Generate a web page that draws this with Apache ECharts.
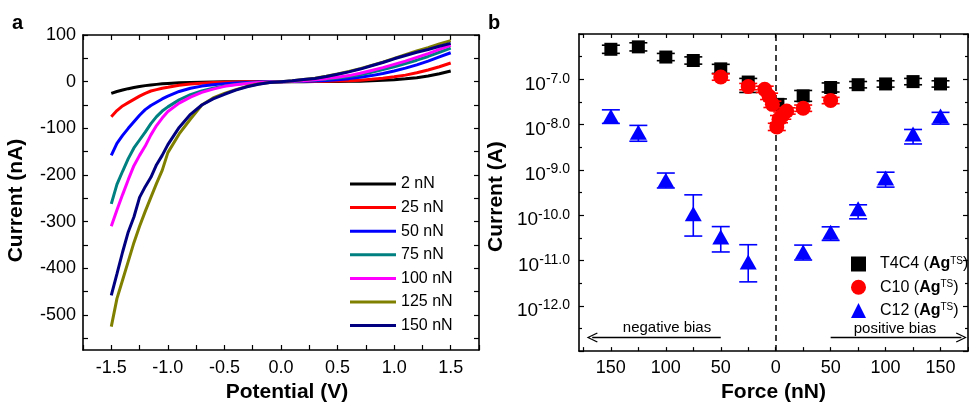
<!DOCTYPE html>
<html>
<head>
<meta charset="utf-8">
<script src="https://cdn.jsdelivr.net/npm/echarts@6/dist/echarts.min.js"></script>
<style>html,body{margin:0;padding:0;background:#fff}#c{width:969px;height:408px}</style>
</head>
<body>
<div id="c"></div>
<script>
// ---------- Panel a: I-V curves ----------
const voltage = [-1.5,-1.45,-1.4,-1.35,-1.3,-1.25,-1.2,-1.15,-1.1,-1.05,-1.0,-0.9,-0.8,-0.7,-0.6,-0.5,-0.4,-0.3,-0.2,-0.1,0,0.1,0.2,0.3,0.4,0.5,0.6,0.7,0.8,0.9,1.0,1.1,1.2,1.3,1.4,1.5];
const forceLabels = ['2 nN','25 nN','50 nN','75 nN','100 nN','125 nN','150 nN'];
const i2   = [-25,-21,-18,-15,-12.5,-10.5,-8.5,-7,-5.8,-4.7,-3.8,-2.5,-1.6,-1,-0.6,-0.4,-0.2,-0.1,-0.05,0,0,0,0.05,0.1,0.2,0.4,0.7,1.1,1.8,2.8,4.2,6,8.5,12,17,23];
const i25  = [-75,-62,-52,-45,-38,-31,-25,-20,-17,-14,-12,-7.5,-5,-3.2,-2,-1.2,-0.7,-0.4,-0.2,-0.1,0,0.1,0.2,0.4,0.7,1.2,2,3.2,5,7.5,10.5,14,19,25,32,40];
const i50  = [-158,-132,-115,-100,-86,-72,-60,-51,-44,-37,-31,-21,-14,-9.5,-6.5,-4.2,-2.7,-1.6,-0.8,-0.3,0,0.3,0.8,1.6,2.7,4.2,6.5,9.5,13,17.5,23,29,36,44,53,62];
const i75  = [-262,-220,-192,-165,-142,-125,-108,-90,-75,-63,-54,-39,-28,-20,-14,-9,-5.8,-3.5,-1.8,-0.7,0,0.7,1.8,3.3,5.3,8,11,15,20,26,32,39,46,54,63,72];
const i100 = [-310,-275,-242,-210,-180,-158,-138,-114,-94,-78,-64,-46,-33,-23,-16,-10,-6.5,-4,-2,-0.8,0,0.8,2,4,6.5,9.5,13,18,24,30,37,44,52,60,69,78];
const i125 = [-525,-465,-425,-385,-345,-310,-278,-248,-218,-190,-152,-112,-80,-50,-35,-25,-17,-10,-5,-2,0,2,4.5,7.5,11.5,16.5,22,28,35,42,50,58,66,73,81,88];
const i150 = [-458,-412,-365,-322,-290,-248,-225,-205,-178,-158,-135,-98,-70,-50,-37,-27,-18,-11,-5.5,-2,0,2,4.5,7,11,16,21,27,34,41,49,56,63,69,76,82];
const curveColors = ['#000000','#ff0000','#0000ff','#008080','#ff00ff','#808000','#000080'];
const xTicksA = [-1.5,-1.0,-0.5,0,0.5,1.0,1.5];
const yTicksA = [-500,-400,-300,-200,-100,0,100];

// ---------- Panel b: current vs force ----------
// force: negative values = negative-bias side (labels show magnitude)
const t4c4Force = [-150,-125,-100,-75,-50,-25,2,25,50,75,100,125,150];
const t4c4Amp   = [4.6e-7,5.2e-7,3.1e-7,2.6e-7,1.7e-7,8.7e-8,2.8e-8,4.3e-8,6.6e-8,7.6e-8,7.9e-8,8.9e-8,7.9e-8];
const t4c4ErrUp = [0.09,0.09,0.08,0.08,0.10,0.08,0.12,0.12,0.10,0.07,0.07,0.07,0.07];
const t4c4ErrLo = [0.09,0.09,0.08,0.08,0.10,0.23,0.12,0.12,0.10,0.07,0.07,0.07,0.07];
const c10Force  = [-50,-25,-10,-6,-3,1,3,6,10,25,50];
const c10Amp    = [1.12e-7,6.9e-8,6.0e-8,4.2e-8,2.8e-8,8.9e-9,1.32e-8,1.58e-8,2.0e-8,2.3e-8,3.4e-8];
const c10ErrUp  = [0.07,0.07,0.07,0.07,0.07,0.08,0.08,0.08,0.07,0.07,0.07];
const c10ErrLo  = [0.07,0.07,0.07,0.07,0.07,0.08,0.08,0.08,0.07,0.07,0.07];
const c12Force  = [-150,-125,-100,-75,-50,-25,25,50,75,100,125,150];
const c12Amp    = [1.5e-8,6.8e-9,5.9e-10,1.07e-10,3.3e-11,9.3e-12,1.55e-11,4.2e-11,1.38e-10,6.6e-10,6.2e-9,1.55e-8];
const c12ErrUp  = [0.15,0.15,0.16,0.42,0.23,0.38,0.15,0.12,0.09,0.13,0.10,0.08];
const c12ErrLo  = [0.15,0.20,0.17,0.49,0.33,0.44,0.18,0.18,0.22,0.20,0.22,0.18];
const xTicksB = [-150,-100,-50,0,50,100,150];
const yDecadesB = [-12,-11,-10,-9,-8,-7];
const biasY = 2.0e-13;

const FONT = "'Liberation Sans', Arial, sans-serif";
const chart = echarts.init(document.getElementById('c'), null, {renderer:'canvas'});

const range = (a,b,s)=>{const r=[];for(let v=a;v<=b+1e-9;v+=s)r.push(+v.toFixed(4));return r;};
const axisBase = {
  axisLine:{onZero:false, lineStyle:{color:'#000', width:1.6}},
  axisTick:{inside:true, length:5, lineStyle:{color:'#000', width:1.2}},
  splitLine:{show:false}
};
function mk(extra){ return Object.assign({}, JSON.parse(JSON.stringify(axisBase)), extra); }

function errRender(color){
  return function(params, api){
    const x = api.value(0), lo = api.value(1), hi = api.value(2);
    const a = api.coord([x, hi]), b = api.coord([x, lo]);
    const hw = 9, st = {stroke:color, lineWidth:1.6};
    return {type:'group', children:[
      {type:'line', shape:{x1:a[0],y1:a[1],x2:b[0],y2:b[1]}, style:st},
      {type:'line', shape:{x1:a[0]-hw,y1:a[1],x2:a[0]+hw,y2:a[1]}, style:st},
      {type:'line', shape:{x1:b[0]-hw,y1:b[1],x2:b[0]+hw,y2:b[1]}, style:st}
    ]};
  };
}
function errData(f, amp, up, lo){ return f.map((x,i)=>[x, Math.log10(amp[i])-lo[i], Math.log10(amp[i])+up[i]]); }
function ptData(f, amp){ return f.map((x,i)=>[x, Math.log10(amp[i])]); }

const curves = [i2,i25,i50,i75,i100,i125,i150];
const seriesA = curves.map((arr,k)=>({
  name: forceLabels[k], type:'line', xAxisIndex:0, yAxisIndex:0,
  showSymbol:false, smooth:false, color:curveColors[k],
  lineStyle:{width:3, color:curveColors[k]},
  data: voltage.map((v,i)=>[v, arr[i]])
}));

const ylabRich = {
  a:{fontSize:19, color:'#000', fontFamily:FONT, lineHeight:22, verticalAlign:'bottom'},
  s:{fontSize:14, color:'#000', fontFamily:FONT, lineHeight:19, verticalAlign:'top'}
};

const option = {
  animation:false,
  textStyle:{fontFamily:FONT, color:'#000'},
  grid:[{left:83, top:35, width:396, height:319}, {left:579, top:34, width:389, height:319}],
  xAxis:[
    mk({gridIndex:0, type:'value', min:-1.75, max:1.75,
      axisTick:{inside:true, length:5, lineStyle:{color:'#000', width:1.2}, customValues:range(-1.75,1.75,0.25)},
      axisLabel:{customValues:xTicksA, formatter:v=>v.toFixed(1), fontSize:18, color:'#000', margin:9, fontFamily:FONT},
      name:'Potential (V)', nameLocation:'middle', nameGap:32,
      nameTextStyle:{fontSize:21, fontWeight:'bold', color:'#000', fontFamily:FONT, padding:[0,0,0,12]}}),
    mk({gridIndex:0, type:'value', position:'top', min:-1.75, max:1.75,
      axisTick:{inside:true, length:5, lineStyle:{color:'#000', width:1.2}, customValues:range(-1.75,1.75,0.25)},
      axisLabel:{show:false}}),
    mk({gridIndex:1, type:'value', min:-179, max:175,
      axisTick:{inside:true, length:4, lineStyle:{color:'#000', width:1.2}, customValues:range(-175,175,25)},
      axisLabel:{customValues:xTicksB, formatter:v=>String(Math.abs(v)), fontSize:18, color:'#000', margin:8, fontFamily:FONT},
      name:'Force (nN)', nameLocation:'middle', nameGap:30,
      nameTextStyle:{fontSize:21, fontWeight:'bold', color:'#000', fontFamily:FONT}}),
    mk({gridIndex:1, type:'value', position:'top', min:-179, max:175,
      axisTick:{inside:true, length:4, lineStyle:{color:'#000', width:1.2}, customValues:range(-175,175,25)},
      axisLabel:{show:false}})
  ],
  yAxis:[
    mk({gridIndex:0, type:'value', min:-575, max:100,
      axisTick:{inside:true, length:5, lineStyle:{color:'#000', width:1.2}, customValues:range(-550,100,50)},
      axisLabel:{customValues:yTicksA, fontSize:18, color:'#000', margin:7, fontFamily:FONT},
      name:'Current (nA)', nameLocation:'middle', nameGap:56,
      nameTextStyle:{fontSize:21, fontWeight:'bold', color:'#000', fontFamily:FONT, padding:[0,0,0,-16]}}),
    mk({gridIndex:0, type:'value', position:'right', min:-575, max:100,
      axisTick:{inside:true, length:5, lineStyle:{color:'#000', width:1.2}, customValues:range(-550,100,50)},
      axisLabel:{show:false}}),
    mk({gridIndex:1, type:'value', min:-13, max:-6, interval:1,
      minorTick:{show:true, splitNumber:2, length:3, lineStyle:{color:'#000', width:1.2}},
      axisLabel:{customValues:yDecadesB, margin:9, padding:[7,0,0,0], formatter:v=>'{a|10}{s|'+v.toFixed(1)+'}', rich:ylabRich},
      name:'Current (A)', nameLocation:'middle', nameGap:72,
      nameTextStyle:{fontSize:21, fontWeight:'bold', color:'#000', fontFamily:FONT, padding:[0,0,0,-8]}}),
    mk({gridIndex:1, type:'value', position:'right', min:-13, max:-6, interval:1,
      minorTick:{show:true, splitNumber:2, length:3, lineStyle:{color:'#000', width:1.2}},
      axisLabel:{show:false}})
  ],
  legend:[
    {data:forceLabels, orient:'vertical', left:345, top:170, itemWidth:46, itemHeight:3, icon:'rect', itemGap:5.6,
     textStyle:{fontSize:16, color:'#000', fontFamily:FONT, lineHeight:18}},
    {data:[{name:'T4C4', icon:'rect'},{name:'C10', icon:'circle'},{name:'C12', icon:'triangle'}],
     orient:'vertical', left:846, top:251, itemWidth:15, itemHeight:15, itemGap:7.3,
     formatter:n=>n+' ({b|Ag}{s|TS})',
     textStyle:{fontSize:16, color:'#000', fontFamily:FONT, lineHeight:16, padding:[0,0,0,9],
       rich:{b:{fontSize:16, fontWeight:'bold', fontFamily:FONT, color:'#000', lineHeight:16, verticalAlign:'bottom'},
             s:{fontSize:10, fontFamily:FONT, color:'#000', lineHeight:16, verticalAlign:'top'}}}}
  ],
  graphic:[
    {type:'text', left:12, top:13, style:{text:'a', font:"bold 20px "+FONT, fill:'#000'}},
    {type:'text', left:488, top:13, style:{text:'b', font:"bold 20px "+FONT, fill:'#000'}},
    {type:'text', x:667, y:328, style:{text:'negative bias', font:"15px "+FONT, fill:'#000', textAlign:'center', textVerticalAlign:'middle'}},
    {type:'text', x:895, y:329, style:{text:'positive bias', font:"15px "+FONT, fill:'#000', textAlign:'center', textVerticalAlign:'middle'}}
  ],
  series: seriesA.concat([
    {type:'custom', name:'T4C4 err', xAxisIndex:2, yAxisIndex:2, renderItem:errRender('#000'), encode:{x:0,y:[1,2]}, data:errData(t4c4Force,t4c4Amp,t4c4ErrUp,t4c4ErrLo), z:2},
    {type:'custom', name:'C12 err', xAxisIndex:2, yAxisIndex:2, renderItem:errRender('#0000ff'), encode:{x:0,y:[1,2]}, data:errData(c12Force,c12Amp,c12ErrUp,c12ErrLo), z:2},
    {type:'scatter', name:'T4C4', xAxisIndex:2, yAxisIndex:2, symbol:'rect', symbolSize:13, itemStyle:{color:'#000', opacity:1}, data:ptData(t4c4Force,t4c4Amp), z:3,
      markLine:{silent:true, symbol:['none','path://M0,0 L10,16 L8,17 L0,4 L-8,17 L-10,16 Z'], symbolSize:[10,11],
        lineStyle:{color:'#000', width:1.3, type:'solid'}, label:{show:false},
        data:[[{coord:[-50, Math.log10(biasY)]},{coord:[-167, Math.log10(biasY)]}],
              [{coord:[50, Math.log10(biasY)]},{coord:[169, Math.log10(biasY)]}]]}},
    {type:'custom', name:'C10 err', xAxisIndex:2, yAxisIndex:2, renderItem:errRender('#ff0000'), encode:{x:0,y:[1,2]}, data:errData(c10Force,c10Amp,c10ErrUp,c10ErrLo), z:4},
    {type:'scatter', name:'C10', xAxisIndex:2, yAxisIndex:2, symbol:'circle', symbolSize:15, itemStyle:{color:'#ff0000', opacity:1}, data:ptData(c10Force,c10Amp), z:5},
    {type:'scatter', name:'C12', xAxisIndex:2, yAxisIndex:2, symbol:'triangle', symbolSize:[17,15], itemStyle:{color:'#0000ff', opacity:1}, data:ptData(c12Force,c12Amp), z:5,
      markLine:{silent:true, symbol:'none', lineStyle:{color:'#000', width:1.5, type:[6,4]}, label:{show:false}, data:[{xAxis:0}]}}
  ])
};
chart.setOption(option);
</script>
</body>
</html>
